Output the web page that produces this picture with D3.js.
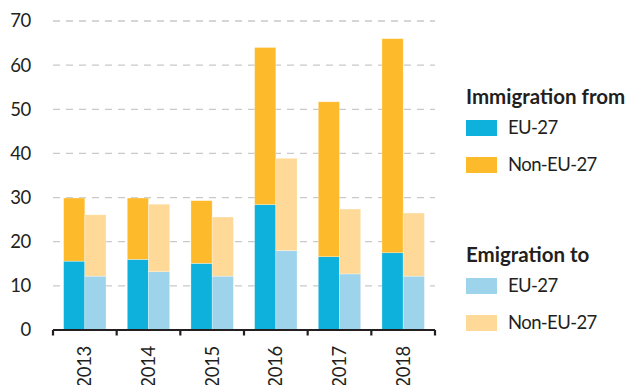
<!DOCTYPE html>
<html><head><meta charset="utf-8">
<script src="https://cdn.jsdelivr.net/npm/d3@7"></script>
<style>
html,body{margin:0;padding:0;background:#fff;}
svg{display:block;font-family:Lato,"Open Sans",sans-serif;}
</style></head>
<body>
<svg id="chart" width="626" height="385"></svg>
<script>
const years = ["2013","2014","2015","2016","2017","2018"];
const immEU    = [15.6, 16.0, 15.1, 28.4, 16.6, 17.5];
const immNonEU = [14.3, 13.9, 14.2, 35.6, 35.1, 48.5];
const emiEU    = [12.2, 13.2, 12.2, 18.0, 12.7, 12.2];
const emiNonEU = [13.9, 15.3, 13.4, 20.9, 14.7, 14.3];
const yTicks = [0,10,20,30,40,50,60,70];
const legendGroups = [
  {title:"Immigration from", items:[{label:"EU-27", color:"#0eb0dc"},{label:"Non-EU-27", color:"#fdbb2b"}]},
  {title:"Emigration to", items:[{label:"EU-27", color:"#9dd4ec"},{label:"Non-EU-27", color:"#fed997"}]}
];
const colors = {immEU:"#0eb0dc", immNon:"#fdbb2b", emiEU:"#9dd4ec", emiNon:"#fed997"};

const svg = d3.select("#chart");
const left = 53, right = 435, y0 = 330, yTop = 21;
const x = d3.scaleBand().domain(years).range([left, right]).padding(0);
const x1 = d3.scaleBand().domain(["imm","emi"]).range([0, x.bandwidth()]).paddingInner(0).paddingOuter(0.5);
const y = d3.scaleLinear().domain([0,70]).range([y0, yTop]);

// grid
svg.append("g").selectAll("line").data(yTicks.filter(t=>t>0)).join("line")
  .attr("x1", left).attr("x2", right)
  .attr("y1", d=>y(d)).attr("y2", d=>y(d))
  .attr("stroke","#c9c9c9").attr("stroke-width",1.3).attr("stroke-dasharray","7,6");

// y labels
svg.append("g").selectAll("text").data(yTicks).join("text")
  .attr("x", 31).attr("y", d=>y(d)).attr("dy","0.35em")
  .attr("text-anchor","end").attr("font-size",18.5).attr("fill","#231f20")
  .attr("letter-spacing",-0.3)
  .text(d=>d);

// bars
const stacks = [];
years.forEach((yr,i)=>{
  stacks.push({yr, g:"imm", lo:0, hi:immEU[i], c:colors.immEU});
  stacks.push({yr, g:"imm", lo:immEU[i], hi:immEU[i]+immNonEU[i], c:colors.immNon});
  stacks.push({yr, g:"emi", lo:0, hi:emiEU[i], c:colors.emiEU});
  stacks.push({yr, g:"emi", lo:emiEU[i], hi:emiEU[i]+emiNonEU[i], c:colors.emiNon});
});
svg.append("g").selectAll("rect").data(stacks).join("rect")
  .attr("x", d=>x(d.yr)+x1(d.g))
  .attr("width", x1.bandwidth())
  .attr("y", d=>y(d.hi))
  .attr("height", d=>y(d.lo)-y(d.hi))
  .attr("fill", d=>d.c)
  .attr("stroke","#fff").attr("stroke-opacity",0.5).attr("stroke-width",0.6);

// x axis
const xa = svg.append("g").attr("transform",`translate(0,${y0})`);
xa.append("line").attr("x1",left).attr("x2",right).attr("stroke","#231f20").attr("stroke-width",2.2);
const bounds = years.map(d=>x(d)).concat([x(years[years.length-1])+x.bandwidth()]);
xa.selectAll("line.tk").data(bounds).join("line").attr("class","tk")
  .attr("x1",d=>d).attr("x2",d=>d).attr("y1",0).attr("y2",5.5)
  .attr("stroke","#231f20").attr("stroke-width",2.2);
xa.selectAll("text").data(years).join("text")
  .attr("transform", d=>`translate(${x(d)+x.bandwidth()/2},16) rotate(-90)`)
  .attr("text-anchor","end").attr("dy","0.35em").attr("letter-spacing",-0.3)
  .attr("font-size",18.5).attr("fill","#231f20").text(d=>d);

// legend
const lg = svg.append("g");
const lx = 466;
const groupY = [97, 255];
legendGroups.forEach((g,gi)=>{
  const gy = groupY[gi];
  lg.append("text").attr("x",lx).attr("y",gy).attr("dy","0.35em")
    .attr("font-size",20.5).attr("font-weight","bold").attr("fill","#231f20").text(g.title);
  g.items.forEach((it,ii)=>{
    const cy = gy + 31 + ii*37;
    lg.append("rect").attr("x",lx).attr("y",cy-8).attr("width",31).attr("height",16).attr("fill",it.color);
    lg.append("text").attr("x",508).attr("y",cy).attr("dy","0.35em").attr("letter-spacing",-0.6)
      .attr("font-size",18.5).attr("fill","#231f20").text(it.label);
  });
});
</script>
</body></html>
